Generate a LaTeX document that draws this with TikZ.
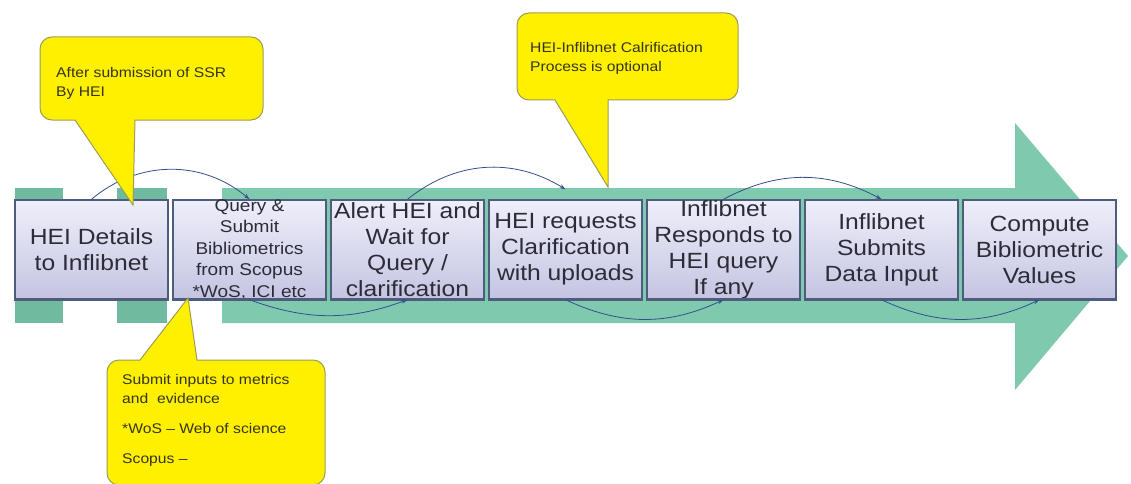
\documentclass[tikz,border=0pt]{standalone}
\usepackage{fontspec}
\setmainfont[FakeStretch=1.12]{Liberation Sans}
\usetikzlibrary{arrows.meta,positioning}

\definecolor{flowgreen}{HTML}{7FC9AE}
\definecolor{stripgreen}{HTML}{70BA9F}
\definecolor{boxtop}{HTML}{EFEFFA}
\definecolor{boxbot}{HTML}{C4C4E2}
\definecolor{boxline}{HTML}{4E5C7E}
\definecolor{textgrey}{HTML}{2C2C38}
\definecolor{noteyellow}{HTML}{FFF000}
\definecolor{noteline}{HTML}{9C9C5A}
\definecolor{notetextc}{HTML}{34341E}
\definecolor{curveblue}{HTML}{34508C}

\tikzset{
  note/.style={fill= noteyellow, draw= noteline, line width= 1pt},
  notetext/.style={anchor= north west, inner sep= 0pt, align= left, text= notetextc, font= \fontsize{14}{19}\selectfont}
}

\begin{document}
\begin{tikzpicture}[x= 1pt, y= 1pt, node distance= 3.5pt]
      \useasboundingbox (0,0) rectangle (1131,483);
      % big green arrow behind the steps
      \fill[stripgreen] (15,160) rectangle (63,295);
      \fill[stripgreen] (117,160) rectangle (167,295);
      \fill[flowgreen] (222,160) -- (222,295) -- (1015,295) -- (1015,360) -- (1128,227) -- (1015,93) -- (1015,160) -- cycle;
      \begin{scope}[every node/.style={rectangle, draw= boxline, line width= 1.5pt,
          top color= boxtop, bottom color= boxbot, minimum width= 153pt, minimum height= 99pt,
          inner xsep= 0pt, inner ysep= -12pt, align= center, text= textgrey,
          font= \fontsize{22}{26}\selectfont}]
        \node (hei) at (91.5,233.5) {HEI Details\\to Inflibnet};
        \node (query) [right= of hei, font= \fontsize{17}{21.5}\selectfont] {Query \&\\Submit\\Bibliometrics\\from Scopus\\*WoS, ICI etc};
        \node (alert) [right= of query] {Alert HEI and\\Wait for\\Query /\\clarification};
        \node (clarify) [right= of alert] {HEI requests\\Clarification\\with uploads};
        \node (respond) [right= of clarify] {Inflibnet\\Responds to\\HEI query\\If any};
        \node (submit) [right= of respond] {Inflibnet\\Submits\\Data Input};
        \node (compute) [right= of submit] {Compute\\Bibliometric\\Values};
      \end{scope}
      \foreach \b in {hei,query,alert,clarify,respond,submit,compute}
        \draw[boxline, line width= 3pt] (\b.south west) -- (\b.south east);
      \begin{scope}
        [every edge/.style={draw= curveblue, line width= 0.8pt, -{Stealth[length= 6pt, width= 4pt]}}]
        \path (hei.north) edge [bend left= 40] (query.north);
        \path (query.south) edge [bend right= 20] (alert.south);
        \path (alert.north) edge [bend left= 35] ([yshift= 10pt]clarify.north);
        \path (clarify.south) edge [bend right= 25] (respond.south);
        \path (respond.north) edge [bend left= 28] (submit.north);
        \path (submit.south) edge [bend right= 25] (compute.south);
      \end{scope}
      % callouts
      \draw[note] (150,446) [rounded corners= 12pt] -- (263,446) -- (263,363) [sharp corners] -- (135,363) -- (133,278) -- (75,363) [rounded corners= 12pt] -- (40,363) -- (40,446) -- cycle;
      \node (ssr) [notetext] at (56,416) {After submission of SSR\\By HEI};
      \draw[note] (627,470) [rounded corners= 12pt] -- (738,470) -- (738,383) [sharp corners] -- (608,383) -- (608,296) -- (555,383) [rounded corners= 12pt] -- (517,383) -- (517,470) -- cycle;
      \node (optional) [notetext] at (530,441) {HEI-Inflibnet Calrification\\Process is optional};
      \draw[note] (216,-2) [rounded corners= 12pt] -- (107,-2) -- (107,123) [sharp corners] -- (140,123) -- (188,185) -- (197,123) [rounded corners= 12pt] -- (325,123) -- (325,-2) -- cycle;
      \node (inputs) [notetext] at (122,109) {Submit inputs to metrics\\and\ \ evidence\\[11pt]*WoS -- Web of science\\[11pt]Scopus --};
    \end{tikzpicture}
\end{document}
